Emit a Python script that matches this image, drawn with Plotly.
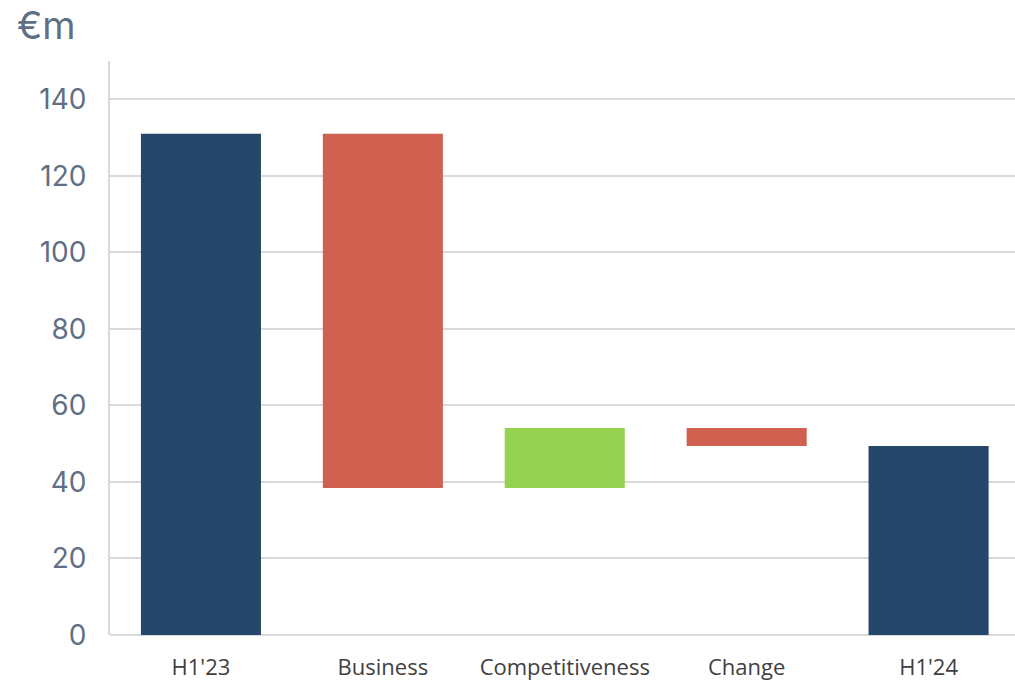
import plotly.graph_objects as go

categories = ["H1'23", "Business", "Competitiveness", "Change", "H1'24"]
values = [131.0, -92.6, 15.7, -4.7, 49.4]
measures = ["absolute", "relative", "relative", "relative", "total"]
y_ticks = [0, 20, 40, 60, 80, 100, 120, 140]

fig = go.Figure(go.Waterfall(
    x=categories,
    y=values,
    measure=measures,
    increasing=dict(marker=dict(color="#95d251")),
    decreasing=dict(marker=dict(color="#d06150")),
    totals=dict(marker=dict(color="#254769")),
    connector=dict(visible=False),
    textposition="none",
))

fig.update_layout(
    width=1015, height=681,
    margin=dict(l=110, r=0, t=61, b=46),
    plot_bgcolor="white", paper_bgcolor="white",
    waterfallgap=0.34,
    showlegend=False,
    xaxis=dict(
        range=[-0.5, 4.475],
        automargin=False,
        tickfont=dict(family="Liberation Sans Narrow, Open Sans, sans-serif", size=22, color="#404040"),
        ticklabelstandoff=17,
        showgrid=False, showline=False, ticks="",
    ),
    yaxis=dict(
        range=[0, 150],
        automargin=False,
        tickvals=y_ticks,
        tickfont=dict(family="Inter, Lato, sans-serif", size=28, color="#5f6f85"),
        showgrid=True, gridcolor="#d9d9d9", gridwidth=1.5,
        showline=True, linecolor="#d9d9d9", linewidth=2,
        zeroline=True, zerolinecolor="#d9d9d9", zerolinewidth=1.5,
        ticks="", ticklabelstandoff=16,
    ),
    annotations=[dict(
        text="€m", x=0, y=1, xref="paper", yref="paper",
        xshift=-95, yshift=36, xanchor="left", yanchor="middle",
        showarrow=False, font=dict(family="Inter, Lato, sans-serif", size=38, color="#5f6f85"),
    )],
)

fig.write_html("out.html")
